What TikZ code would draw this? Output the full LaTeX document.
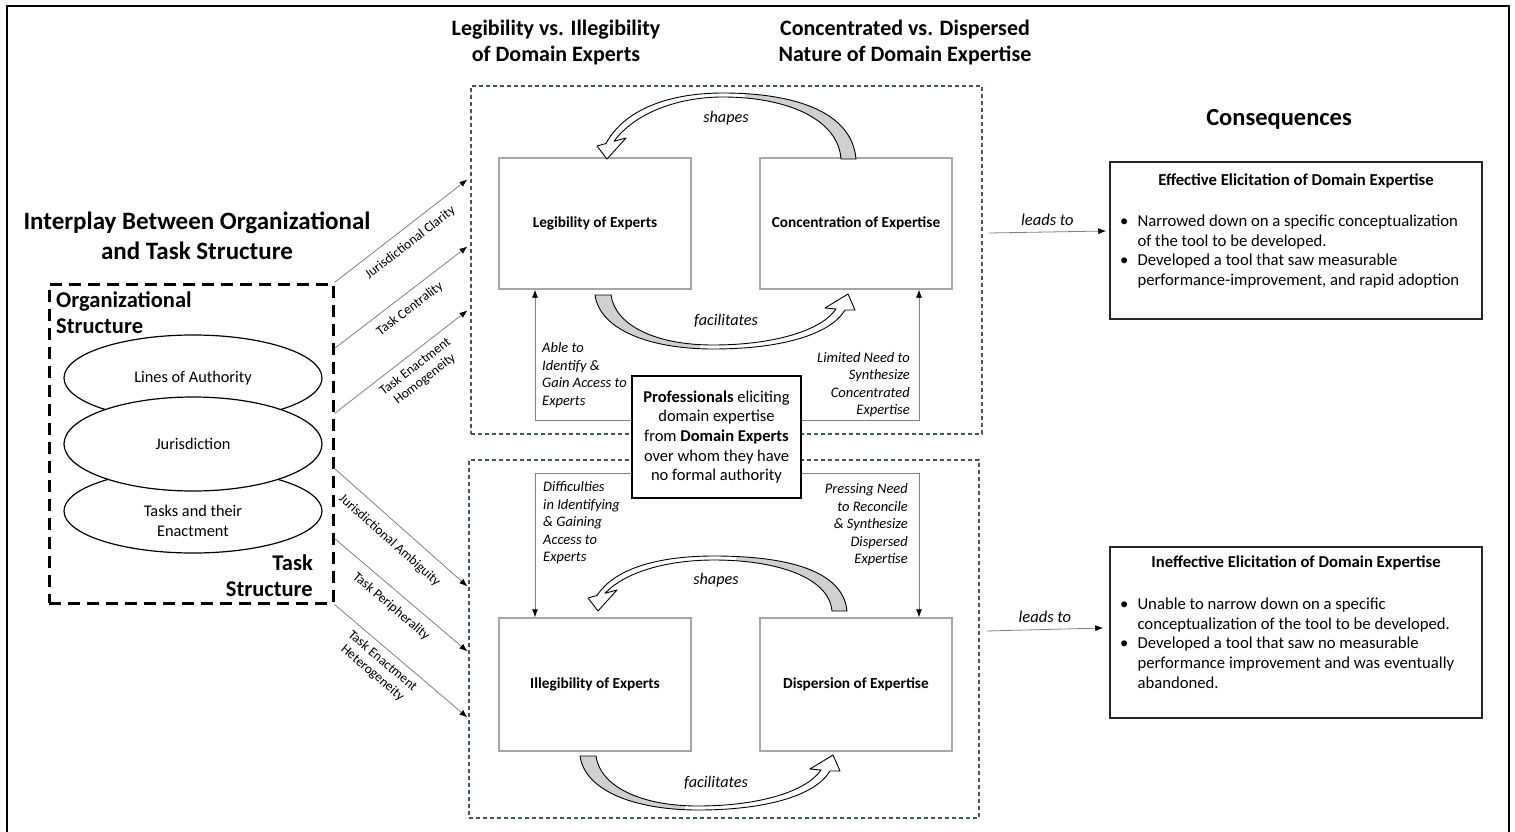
\documentclass[tikz,border=0pt]{standalone}
\usepackage{fontspec}
\setmainfont{Carlito}
\usetikzlibrary{arrows.meta,shapes.geometric}
\definecolor{dashblue}{HTML}{44546A}
\definecolor{boxgray}{HTML}{A6A6A6}
\definecolor{linegray}{HTML}{808080}
\definecolor{tailgray}{HTML}{D0D0D0}
\newcommand\fsz[2]{\fontsize{#1}{#2}\selectfont}
\begin{document}
\begin{tikzpicture}[x=1pt,y=-1pt,
  conn/.style={draw=linegray, line width=0.8pt, -{Latex[length=8pt,width=6pt,color=black]}},
  flowlab/.style={font=\fsz{13.5}{15.5}, sloped, below, align=center, inner sep=8pt},
  midbox/.style={draw=boxgray, line width=1.3pt, minimum width=192pt, inner sep=0pt, font=\bfseries\fsz{15.3}{18}},
  dashbox/.style={draw=dashblue, line width=1.1pt, dash pattern=on 4pt off 3pt, inner sep=0pt},
  ell/.style={ellipse, draw, line width=1.2pt, minimum width=258pt, inner sep=0pt, font=\fsz{16.3}{20}},
  itlab/.style={font=\itshape\fsz{14.5}{17.5}, inner sep=0pt},
  curvlab/.style={font=\itshape\fsz{16.2}{18}},
  curvarr/.style={draw=black, line width=0.9pt, line join=round, fill=white},
  conbox/.style={draw=black!85, line width=1.5pt, minimum width=372pt, inner sep=0pt},
  contitle/.style={font=\bfseries\fsz{16.7}{20}},
  conlist/.style={anchor=north west, inner sep=0pt, font=\fsz{16.7}{19.7}},
  leadlab/.style={font=\itshape\fsz{16.5}{18}, above=3pt}
]
\useasboundingbox (0,0) rectangle (1515,832);
% outer frame
\draw[line width=2.5pt] (7,832) -- (7,6) -- (1509,6) -- (1509,832);

% left part
\node[font=\bfseries\fsz{25}{30}, align=center] (title) at (197,236) {Interplay Between Organizational\\and Task Structure};
\node[draw, line width=3pt, dash pattern=on 12pt off 7pt, minimum width=284pt, minimum height=319pt, inner sep=0pt] (org) at (191,443.5) {};
\node[font=\bfseries\fsz{22.5}{26}, align=left, anchor=north west, inner sep=0pt] (orgst) at (56,291) {Organizational\\Structure};
\node[font=\bfseries\fsz{22.5}{26}, align=right, anchor=south east, inner sep=0pt] (taskst) at (313,597) {Task\\Structure};
\node[ell, minimum height=86pt, fill=white] (auth) at (193,378) {Lines of Authority};
\node[ell, minimum height=84pt, fill=white] (tasks) at (193,511) {};
\node[font=\fsz{16.3}{20}, align=center] (taskstxt) at (193,521) {Tasks and their\\Enactment};
\node[ell, minimum height=94pt, fill=white] (juris) at (193,444) {Jurisdiction};

% column headers
\node[font=\bfseries\fsz{22}{26}, align=center] (h1) at (556,43) {Legibility vs. Illegibility\\of Domain Experts};
\node[font=\bfseries\fsz{22}{26}, align=center] (h2) at (905,43) {Concentrated vs. Dispersed\\Nature of Domain Expertise};

% dashed boxes
\node[dashbox, minimum width=511pt, minimum height=348pt] (ubox) at (726.5,260) {};
\node[dashbox, minimum width=510pt, minimum height=358pt] (lbox) at (724,639) {};

% flow arrows
\draw[conn] (org.north east) -- node[flowlab, inner sep=9pt] {Jurisdictional Clarity} ([yshift=-94pt,xshift=-3pt]ubox.north west);
\draw[conn] ([yshift=-66pt]org.north east) -- node[flowlab, inner sep=8.5pt] {Task Centrality} ([yshift=-161pt,xshift=-3pt]ubox.north west);
\draw[conn] ([yshift=-131pt]org.north east) -- node[flowlab, inner sep=6.5pt, pos=0.55] {Task Enactment\\Homogeneity} ([yshift=-225pt,xshift=-3pt]ubox.north west);
\draw[conn] ([yshift=-186pt]org.north east) -- node[flowlab, inner sep=11pt] {Jurisdictional Ambiguity} ([yshift=-127pt,xshift=-1pt]lbox.north west);
\draw[conn] ([yshift=-256pt]org.north east) -- node[flowlab, inner sep=9pt] {Task Peripherality} ([yshift=-192pt,xshift=-1pt]lbox.north west);
\draw[conn] (org.south east) -- node[flowlab, inner sep=6pt, pos=0.42] {Task Enactment\\Heterogeneity} ([yshift=-258pt,xshift=-1pt]lbox.north west);

% inner boxes
\node[midbox, minimum height=131pt] (leg) at (595,223.5) {Legibility of Experts};
\node[midbox, minimum height=131pt] (conc) at (856,223.5) {Concentration of Expertise};
\node[midbox, minimum height=133pt] (illeg) at (595,684.5) {Illegibility of Experts};
\node[midbox, minimum height=133pt] (disp) at (856,684.5) {Dispersion of Expertise};

% central box
\node[draw, line width=1.2pt, fill=white, minimum width=169pt, minimum height=122pt, align=center, font=\fsz{16.5}{19.7}, inner sep=0pt] (prof) at (716.5,437) {\textbf{Professionals} eliciting\\domain expertise\\from \textbf{Domain Experts}\\over whom they have\\no formal authority};

\draw[conn] ([yshift=17pt]prof.west) -| ([xshift=-60pt]leg.south);
\draw[conn] ([yshift=17pt]prof.east) -| ([xshift=63pt]conc.south);
\draw[conn] ([yshift=-36pt]prof.west) -| ([xshift=-60pt]illeg.north);
\draw[conn] ([yshift=-36pt]prof.east) -| ([xshift=63pt]disp.north);

\node[itlab, align=left, anchor=west] (lab1) at (542,375) {Able to\\Identify \&\\Gain Access to\\Experts};
\node[itlab, align=right, anchor=east] (lab2) at (910,384.5) {Limited Need to\\Synthesize\\Concentrated\\Expertise};
\node[itlab, align=left, anchor=west] (lab3) at (543,523) {Difficulties\\in Identifying\\\& Gaining\\Access to\\Experts};
\node[itlab, align=right, anchor=east] (lab4) at (908,525) {Pressing Need\\to Reconcile\\\& Synthesize\\Dispersed\\Expertise};

% curved block arrows
\draw[curvarr, path picture={\fill[tailgray] (745,60) rectangle (880,175);}]
  (856,159) .. controls (852,112) and (795,93) .. (723,93)
  .. controls (668,93) and (624,110) .. (606,143.5)
  -- (597,146) -- (607,159) -- (626,138) -- (614,141.3)
  .. controls (634,114) and (676,97) .. (723,97)
  .. controls (785,97) and (838,118) .. (841,159) -- cycle;
\draw[curvarr, path picture={\fill[tailgray] (580,285) rectangle (700,360);}]
  (595,295) .. controls (600,330) and (650,349) .. (713,349)
  .. controls (780,349) and (830,335) .. (845,310)
  -- (855,310) -- (848,294) -- (825,308) -- (836,309)
  .. controls (822,330) and (775,345) .. (713,345)
  .. controls (655,345) and (615,325) .. (611,295) -- cycle;
\draw[curvarr, path picture={\fill[tailgray] (736,540) rectangle (880,625);}]
  (847,611) .. controls (843,570) and (786,556) .. (714,556)
  .. controls (659,556) and (615,568) .. (597,595.5)
  -- (588,598) -- (598,611) -- (617,590) -- (605,593.3)
  .. controls (625,572) and (667,560) .. (714,560)
  .. controls (776,560) and (829,577) .. (832,611) -- cycle;
\begin{scope}[shift={(-15,461)}]
\draw[curvarr, path picture={\fill[tailgray] (580,285) rectangle (700,360);}]
  (595,295) .. controls (600,330) and (650,349) .. (713,349)
  .. controls (780,349) and (830,335) .. (845,310)
  -- (855,310) -- (848,294) -- (825,308) -- (836,309)
  .. controls (822,330) and (775,345) .. (713,345)
  .. controls (655,345) and (615,325) .. (611,295) -- cycle;
\end{scope}

\node[curvlab] (sh1) at (726,118) {shapes};
\node[curvlab] (fa1) at (726,321) {facilitates};
\node[curvlab] (sh2) at (716,580) {shapes};
\node[curvlab] (fa2) at (716,783) {facilitates};

% consequences
\node[font=\bfseries\fsz{24.5}{28}] (cons) at (1279,119) {Consequences};
\node[conbox, minimum height=157pt] (eff) at (1296,240.5) {};
\node[contitle] (efft) at (1296,181) {Effective Elicitation of Domain Expertise};
\node[conlist] (effl) at (1120,212.5) {\begin{tabular}{@{}l@{\hspace{9pt}}l@{}}
\textbullet & Narrowed down on a specific conceptualization\\
 & of the tool to be developed.\\
\textbullet & Developed a tool that saw measurable\\
 & performance-improvement, and rapid adoption
\end{tabular}};
\node[conbox, minimum height=171pt] (ineff) at (1296,632.5) {};
\node[contitle] (inefft) at (1296,563) {Ineffective Elicitation of Domain Expertise};
\node[conlist] (ineffl) at (1120,595.5) {\begin{tabular}{@{}l@{\hspace{9pt}}l@{}}
\textbullet & Unable to narrow down on a specific\\
 & conceptualization of the tool to be developed.\\
\textbullet & Developed a tool that saw no measurable\\
 & performance improvement and was eventually\\
 & abandoned.
\end{tabular}};

\draw[conn] ([xshift=6pt,yshift=27pt]ubox.east) -- node[leadlab] {leads to} ([xshift=-3pt,yshift=9.5pt]eff.west);
\draw[conn] ([xshift=7pt,yshift=8pt]lbox.east) -- node[leadlab] {leads to} ([xshift=-6pt,yshift=4.5pt]ineff.west);
\end{tikzpicture}
\end{document}
